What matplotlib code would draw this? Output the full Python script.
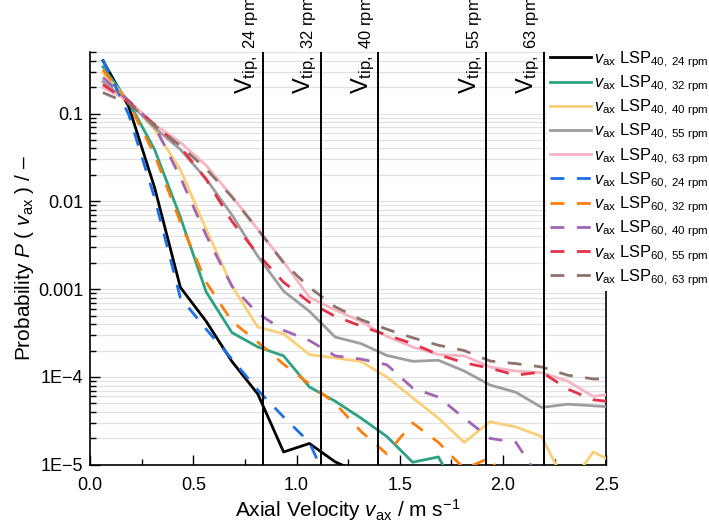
import numpy as np
import matplotlib.pyplot as plt
from matplotlib.ticker import LogLocator, NullFormatter, MultipleLocator
import matplotlib.transforms as mtransforms

plt.rcParams['font.family'] = ['Liberation Sans', 'DejaVu Sans']
plt.rcParams['mathtext.fontset'] = 'custom'
plt.rcParams['mathtext.rm'] = 'Liberation Sans'
plt.rcParams['mathtext.it'] = 'Liberation Sans:italic'
plt.rcParams['mathtext.bf'] = 'Liberation Sans:bold'

nan = np.nan

# bin centres of the axial velocity histogram [m/s]
v_ax = [0.0625, 0.1875, 0.3125, 0.4375, 0.5625, 0.6875, 0.8125, 0.9375, 1.0625, 1.1875,
        1.3125, 1.4375, 1.5625, 1.6875, 1.8125, 1.9375, 2.0625, 2.1875, 2.3125, 2.4375, 2.5625]

# probabilities, LSP 40
p40_24 = [0.40, 0.12, 0.0144, 0.00105, 0.00043, 0.00015, 6.4e-5, 1.4e-5, 1.75e-5, 1.08e-5,
          8e-6, nan, nan, nan, nan, nan, nan, nan, nan, nan, nan]
p40_32 = [0.34, 0.135, 0.039, 0.0066, 9.3e-4, 3.2e-4, 2.2e-4, 1.74e-4, 7.7e-5, 5.3e-5,
          3.4e-5, 2.1e-5, 1.07e-5, 1.23e-5, 3.5e-6, nan, nan, nan, nan, nan, nan]
p40_40 = [0.29, 0.14, 0.066, 0.023, 0.0048, 0.00108, 3.7e-4, 3.1e-4, 1.8e-4, 1.65e-4,
          1.5e-4, 1.0e-4, 5.8e-5, 3.4e-5, 1.8e-5, 3.1e-5, 2.7e-5, 2.1e-5, 5.5e-6, 1.4e-5, 1.0e-5]
p40_55 = [0.231, 0.135, 0.069, 0.039, 0.018, 0.007, 0.00237, 9.5e-4, 5.6e-4, 2.85e-4,
          2.4e-4, 1.76e-4, 1.51e-4, 1.55e-4, 1.17e-4, 8.1e-5, 6.7e-5, 4.5e-5, 4.9e-5, 4.7e-5, 4.5e-5]
p40_63 = [0.197, 0.14, 0.075, 0.047, 0.0257, 0.0114, 0.0048, 0.00204, 8.1e-4, 5.8e-4,
          4.3e-4, 2.9e-4, 2.2e-4, 1.8e-4, 1.74e-4, 1.3e-4, 1.17e-4, 1.12e-4, 9e-5, 6.0e-5, 6.6e-5]

# probabilities, LSP 60
p60_24 = [0.41, 0.097, 0.011, 0.0008, 0.00035, 0.00016, 7.1e-5, 3.5e-5, 1.8e-5, 4e-6,
          nan, nan, nan, nan, nan, nan, nan, nan, nan, nan, nan]
p60_32 = [0.316, 0.13, 0.034, 0.0058, 0.0012, 4.3e-4, 2.5e-4, 1.4e-4, 8.3e-5, 5.0e-5,
          2.4e-5, 1.33e-5, 3.0e-5, 1.8e-5, 9e-6, 1.2e-5, 4e-6, nan, nan, nan, nan]
p60_40 = [0.257, 0.14, 0.073, 0.0187, 0.0041, 0.00108, 5.3e-4, 3.4e-4, 2.6e-4, 1.74e-4,
          1.6e-4, 1.38e-4, 7.5e-5, 5.9e-5, 3.4e-5, 2.0e-5, 1.8e-5, 6.5e-6, nan, nan, nan]
p60_55 = [0.214, 0.135, 0.075, 0.0416, 0.0178, 0.0059, 0.0025, 0.0012, 7.1e-4, 4.9e-4,
          3.8e-4, 3.0e-4, 2.4e-4, 1.8e-4, 1.45e-4, 1.26e-4, 1.05e-4, 1.14e-4, 7.3e-5, 5.5e-5, 5.1e-5]
p60_63 = [0.173, 0.13, 0.073, 0.043, 0.0234, 0.0112, 0.0048, 0.0020, 0.00105, 6.3e-4,
          4.5e-4, 3.5e-4, 2.8e-4, 2.3e-4, 2.0e-4, 1.52e-4, 1.42e-4, 1.3e-4, 1.05e-4, 9.5e-5, 9.5e-5]

rpms = ['24', '32', '40', '55', '63']
v_tip = [0.838, 1.117, 1.396, 1.920, 2.199]  # tip speed per rpm [m/s]

colors = ['#000000', '#2ca283', '#f9cf7a', '#9e9e9e', '#f7b5c3',
          '#1f6fe6', '#ff7f0e', '#a066b3', '#e2334a', '#8c736b']

series = [p40_24, p40_32, p40_40, p40_55, p40_63, p60_24, p60_32, p60_40, p60_55, p60_63]
labels = []
for lsp in ['40', '60']:
    for r in rpms:
        labels.append(r'$v_{\mathrm{ax}}$ LSP$_{\mathrm{' + lsp + r',\ ' + r + r'\ rpm}}$')

#%% figure
fig = plt.figure(figsize=(7.09, 5.27), dpi=100)
ax = fig.add_axes([0.127, 0.118, 0.728, 0.783])

handles = []
for i, (p, c, lab) in enumerate(zip(series, colors, labels)):
    if i < 5:
        h, = ax.plot(v_ax, p, color=c, lw=2.0, label=lab, zorder=3)
    else:
        h, = ax.plot(v_ax, p, color=c, lw=2.0, ls=(0, (5, 4.5)), label=lab, zorder=4)
    handles.append(h)

# tip speed lines
trans = mtransforms.blended_transform_factory(ax.transData, ax.transAxes)
for vt, r in zip(v_tip, rpms):
    ax.axvline(vt, color='black', lw=1.4, zorder=5)
    ax.text(vt - 0.008, 0.898, r'V$_{\mathrm{tip,\ ' + r + r'\ rpm}}$', transform=trans,
            rotation=90, ha='right', va='bottom', fontsize=17, clip_on=False)

ax.set_yscale('log')
ax.set_xlim(0, 2.5)
ax.set_ylim(1e-5, 0.5)

ax.set_yticks([1e-5, 1e-4, 1e-3, 1e-2, 1e-1])
ax.set_yticklabels(['1E\u22125', '1E\u22124', '0.001', '0.01', '0.1'])
ax.yaxis.set_minor_locator(LogLocator(base=10, subs=np.arange(2, 10)))
ax.yaxis.set_minor_formatter(NullFormatter())
ax.xaxis.set_major_locator(MultipleLocator(0.5))
ax.xaxis.set_minor_locator(MultipleLocator(0.25))
ax.xaxis.set_major_formatter(plt.FuncFormatter(lambda x, pos: f'{x:.1f}'))

ax.tick_params(which='major', direction='in', length=7, width=1, labelsize=13)
ax.tick_params(which='minor', direction='in', length=4, width=1)
ax.tick_params(axis='x', which='major', pad=9)
ax.tick_params(axis='y', which='major', pad=5)
ax.tick_params(axis='both', which='both', top=False, right=False)

ax.grid(axis='y', which='both', color='#e2e2e2', lw=0.9, zorder=0)
ax.spines['top'].set_visible(False)
for s in ['left', 'bottom', 'right']:
    ax.spines[s].set_linewidth(1.2)

ax.set_xlabel(r'Axial Velocity $v_{\mathrm{ax}}$ / m s$^{-1}$', fontsize=15, labelpad=2)
ax.set_ylabel('Probability $P$ ( $v_{\\mathrm{ax}}$ ) / \u2013', fontsize=15, labelpad=1)

leg = ax.legend(handles=handles, loc='upper left', bbox_to_anchor=(547 / 709, 1 - 46 / 527),
                bbox_transform=fig.transFigure, frameon=True, fancybox=False,
                edgecolor='none', facecolor='white', framealpha=1, borderaxespad=0,
                borderpad=0.2, fontsize=11.8, handlelength=2.5, handletextpad=0.15,
                labelspacing=0.22)
leg.set_zorder(10)

plt.savefig('out.png', dpi=100)
